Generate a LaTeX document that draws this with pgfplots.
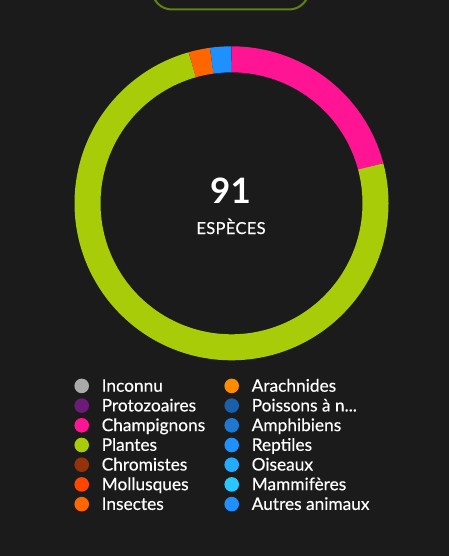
\documentclass[border=0pt]{standalone}
\usepackage{fontspec}
\setmainfont{Lato}
\usepackage{pgfplots}
\pgfplotsset{compat=1.18}
\definecolor{bg}{RGB}{27,27,27}
\definecolor{topgreen}{RGB}{96,130,14}
\definecolor{cInconnu}{RGB}{170,170,170}
\definecolor{cProto}{RGB}{108,28,120}
\definecolor{cChamp}{RGB}{255,20,147}
\definecolor{cPlant}{RGB}{168,204,8}
\definecolor{cChrom}{RGB}{150,50,10}
\definecolor{cMoll}{RGB}{255,69,0}
\definecolor{cInsect}{RGB}{255,102,0}
\definecolor{cArach}{RGB}{255,140,0}
\definecolor{cPoiss}{RGB}{25,95,170}
\definecolor{cAmph}{RGB}{30,120,210}
\definecolor{cRept}{RGB}{30,144,255}
\definecolor{cOis}{RGB}{35,172,255}
\definecolor{cMamm}{RGB}{40,200,255}
\definecolor{cAutres}{RGB}{30,144,255}
\begin{document}
\begin{tikzpicture}
\fill[bg] (0,0) rectangle (449bp,556bp);
\begin{axis}[
  at={(0,0)}, anchor=south west,
  scale only axis, width=449bp, height=556bp,
  xmin=0, xmax=449, ymin=0, ymax=556, y dir=reverse,
  hide axis,
  legend columns=2,
  legend image code/.code={%
    \path[draw=none, fill=none] (-7.5bp,-6bp) rectangle (20bp,13.7bp);
    \path[#1, draw=none] (0bp,5.8bp) circle (7.3bp);},
  legend style={draw=none, fill=none, at={(axis cs:74.2,378)}, anchor=north west,
    inner sep=0pt, outer sep=0pt, column sep=0pt, row sep=0pt,
    cells={anchor=base west},
    nodes={inner sep=0pt, text=white, font=\addfontfeatures{FakeBold=0.4}\fontsize{17.3bp}{20bp}\selectfont}},
]
% top button outline (decoration)
\draw[topgreen, line width=2bp, rounded corners=20bp] (axis cs:152,-40) rectangle (axis cs:309,9.5);
% donut: 91 species -- Champignons 19, Plantes 68, Insectes 2, Reptiles 2
\addplot[forget plot, draw=cChamp, line width=26bp, domain={0*360/91}:{19*360/91}, samples=80] ({231.5+144*sin(x)},{203.3-144*cos(x)});
\addplot[forget plot, draw=cPlant, line width=26bp, domain={19*360/91}:{87*360/91}, samples=200] ({231.5+144*sin(x)},{203.3-144*cos(x)});
\addplot[forget plot, draw=cInsect, line width=26bp, domain={87*360/91}:{89*360/91}, samples=10] ({231.5+144*sin(x)},{203.3-144*cos(x)});
\addplot[forget plot, draw=cRept, line width=26bp, domain={89*360/91}:{91*360/91}, samples=10] ({231.5+144*sin(x)},{203.3-144*cos(x)});
\node[anchor=base, text=white, font=\bfseries\fontsize{35bp}{40bp}\selectfont] at (axis cs:230.5,203) {91};
\node[anchor=base, text=white, font=\addfontfeatures{LetterSpace=2,FakeBold=0.4}\fontsize{16.5bp}{18bp}\selectfont] at (axis cs:231,234) {ESPÈCES};
% legend (column-wise order interleaved for 2 columns)
\addlegendimage{fill=cInconnu}\addlegendentry{\makebox[122.5bp][l]{Inconnu}}
\addlegendimage{fill=cArach}\addlegendentry{Arachnides}
\addlegendimage{fill=cProto}\addlegendentry{\makebox[122.5bp][l]{Protozoaires}}
\addlegendimage{fill=cPoiss}\addlegendentry{Poissons à n...}
\addlegendimage{fill=cChamp}\addlegendentry{\makebox[122.5bp][l]{Champignons}}
\addlegendimage{fill=cAmph}\addlegendentry{Amphibiens}
\addlegendimage{fill=cPlant}\addlegendentry{\makebox[122.5bp][l]{Plantes}}
\addlegendimage{fill=cRept}\addlegendentry{Reptiles}
\addlegendimage{fill=cChrom}\addlegendentry{\makebox[122.5bp][l]{Chromistes}}
\addlegendimage{fill=cOis}\addlegendentry{Oiseaux}
\addlegendimage{fill=cMoll}\addlegendentry{\makebox[122.5bp][l]{Mollusques}}
\addlegendimage{fill=cMamm}\addlegendentry{Mammifères}
\addlegendimage{fill=cInsect}\addlegendentry{\makebox[122.5bp][l]{Insectes}}
\addlegendimage{fill=cAutres}\addlegendentry{Autres animaux}
\end{axis}
\end{tikzpicture}
\end{document}
